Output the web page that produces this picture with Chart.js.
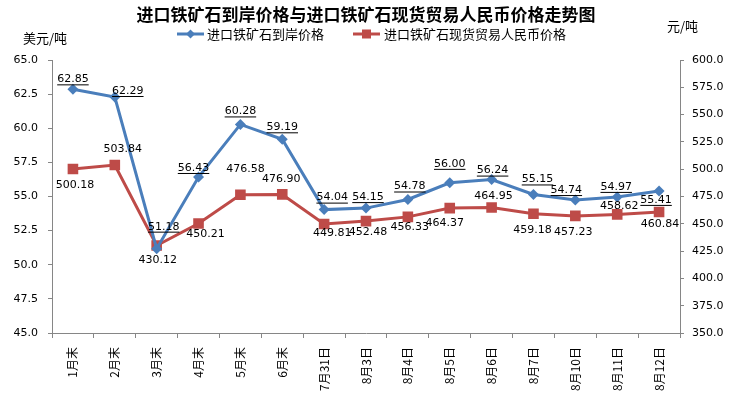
<!DOCTYPE html>
<html>
<head>
<meta charset="utf-8">
<script src="https://cdn.jsdelivr.net/npm/chart.js@4.4.1/dist/chart.umd.min.js"></script>
<style>
  html, body { margin: 0; padding: 0; background: #fff; }
  #wrap { width: 734px; height: 393px; }
</style>
</head>
<body>
<div id="wrap"><canvas id="ironChart" width="734" height="393"></canvas></div>
<script>
// --- data ---
const categories = ['1月末', '2月末', '3月末', '4月末', '5月末', '6月末', '7月31日', '8月3日', '8月4日', '8月5日', '8月6日', '8月7日', '8月10日', '8月11日', '8月12日'];
const usdPrice = [62.85, 62.29, 51.18, 56.43, 60.28, 59.19, 54.04, 54.15, 54.78, 56.00, 56.24, 55.15, 54.74, 54.97, 55.41];
const rmbPrice = [500.18, 503.84, 430.12, 450.21, 476.58, 476.90, 449.81, 452.48, 456.33, 464.37, 464.95, 459.18, 457.23, 458.62, 460.84];
const seriesNames = ['进口铁矿石到岸价格', '进口铁矿石现货贸易人民币价格'];
const titleText = '进口铁矿石到岸价格与进口铁矿石现货贸易人民币价格走势图';
const leftUnit = '美元/吨';
const rightUnit = '元/吨';

// label nudges (pixels from the point), one per category
const usdLabelShift = [[0, -10], [13, -6], [7, -22], [-5, -9], [0, -13], [0, -12], [8, -12], [2, -11], [2, -13], [0, -19], [1, -9], [4, -15], [-9, -10], [-1, -10], [-3, 9]];
const rmbLabelShift = [[2, 16], [8, -16], [1, 15], [7, 11], [5, -26], [-1, -15], [8, 9], [2, 11], [2, 10], [-5, 15], [2, -11], [-1, 16], [-2, 16], [2, -8], [1, 12]];

const BLUE = '#4A7EBB';
const RED = '#BE4B48';
const AXIS = '#868686';
const CJK = '"Noto Sans CJK SC", sans-serif';
const NUM = '"DejaVu Sans", Verdana, sans-serif';

// draws the value labels next to every point
const valueLabels = {
  id: 'valueLabels',
  afterDatasetsDraw(chart) {
    const ctx = chart.ctx;
    ctx.save();
    ctx.font = '11px ' + NUM;
    ctx.fillStyle = '#000';
    ctx.textAlign = 'center';
    ctx.textBaseline = 'middle';
    chart.data.datasets.forEach((ds, di) => {
      const meta = chart.getDatasetMeta(di);
      const shifts = di === 0 ? usdLabelShift : rmbLabelShift;
      meta.data.forEach((pt, i) => {
        const txt = ds.data[i].toFixed(2);
        const x = pt.x + shifts[i][0];
        const y = pt.y + shifts[i][1];
        ctx.fillText(txt, x, y);
        if (di === 0) {
          const w = ctx.measureText(txt).width;
          ctx.fillRect(x - w / 2, y + 5, w, 1);
        }
      });
    });
    ctx.restore();
  }
};

// title, legend and unit captions
const headerBits = {
  id: 'headerBits',
  afterDraw(chart) {
    const ctx = chart.ctx;
    ctx.save();
    ctx.fillStyle = '#000';
    ctx.textBaseline = 'middle';

    ctx.font = 'bold 17px ' + CJK;
    ctx.textAlign = 'center';
    ctx.fillText(titleText, 366, 15);

    ctx.font = '13px ' + CJK;
    ctx.textAlign = 'left';
    ctx.fillText(leftUnit, 23, 38);
    ctx.fillText(rightUnit, 667, 26);

    // legend: line + marker, then text
    const ly = 34;
    ctx.lineWidth = 3;
    ctx.strokeStyle = BLUE;
    ctx.beginPath(); ctx.moveTo(177, ly); ctx.lineTo(204, ly); ctx.stroke();
    ctx.fillStyle = BLUE;
    ctx.beginPath();
    ctx.moveTo(190.5, ly - 4.5); ctx.lineTo(195, ly); ctx.lineTo(190.5, ly + 4.5); ctx.lineTo(186, ly);
    ctx.closePath(); ctx.fill();

    ctx.strokeStyle = RED;
    ctx.beginPath(); ctx.moveTo(353, ly); ctx.lineTo(380, ly); ctx.stroke();
    ctx.fillStyle = RED;
    ctx.fillRect(362, ly - 4.5, 9, 9);

    ctx.fillStyle = '#000';
    ctx.font = '13px ' + CJK;
    ctx.fillText(seriesNames[0], 207, ly);
    ctx.fillText(seriesNames[1], 384, ly);
    ctx.restore();
  }
};

const ctx = document.getElementById('ironChart');
const ironChart = new Chart(ctx, {
  type: 'line',
  data: {
    labels: categories,
    datasets: [
      {
        label: seriesNames[0],
        data: usdPrice,
        yAxisID: 'yUsd',
        borderColor: BLUE,
        backgroundColor: BLUE,
        borderWidth: 3,
        pointStyle: 'rectRot',
        pointRadius: 5.5,
        pointHoverRadius: 5.5,
        pointBorderWidth: 0,
        tension: 0
      },
      {
        label: seriesNames[1],
        data: rmbPrice,
        yAxisID: 'yRmb',
        borderColor: RED,
        backgroundColor: RED,
        borderWidth: 3,
        pointStyle: 'rect',
        pointRadius: 7.5,
        pointHoverRadius: 7.5,
        pointBorderWidth: 0,
        tension: 0
      }
    ]
  },
  options: {
    responsive: false,
    animation: false,
    layout: { padding: { top: 60, bottom: 0, left: 0, right: 0 } },
    plugins: {
      legend: { display: false },
      title: { display: false },
      tooltip: { enabled: false }
    },
    scales: {
      x: {
        offset: true,
        grid: { offset: true, drawOnChartArea: false, color: AXIS, tickLength: 5 },
        border: { color: AXIS, width: 1 },
        ticks: {
          autoSkip: false,
          minRotation: 90,
          maxRotation: 90,
          padding: 9,
          color: '#000',
          font: { family: CJK, size: 12 }
        },
        afterFit(scale) { scale.height = 60; }
      },
      yUsd: {
        position: 'left',
        min: 45,
        max: 65,
        grid: { drawOnChartArea: false, color: AXIS, tickLength: 4 },
        border: { color: AXIS, width: 1 },
        ticks: {
          stepSize: 2.5,
          padding: 10,
          color: '#000',
          font: { family: NUM, size: 11 },
          callback: v => v.toFixed(1)
        },
        afterFit(scale) { scale.width = 52; }
      },
      yRmb: {
        position: 'right',
        min: 350,
        max: 600,
        grid: { drawOnChartArea: false, color: AXIS, tickLength: 4 },
        border: { color: AXIS, width: 1 },
        ticks: {
          stepSize: 25,
          padding: 8,
          color: '#000',
          font: { family: NUM, size: 11 },
          callback: v => v.toFixed(1)
        },
        afterFit(scale) { scale.width = 54; }
      }
    }
  },
  plugins: [valueLabels, headerBits]
});
</script>
</body>
</html>
